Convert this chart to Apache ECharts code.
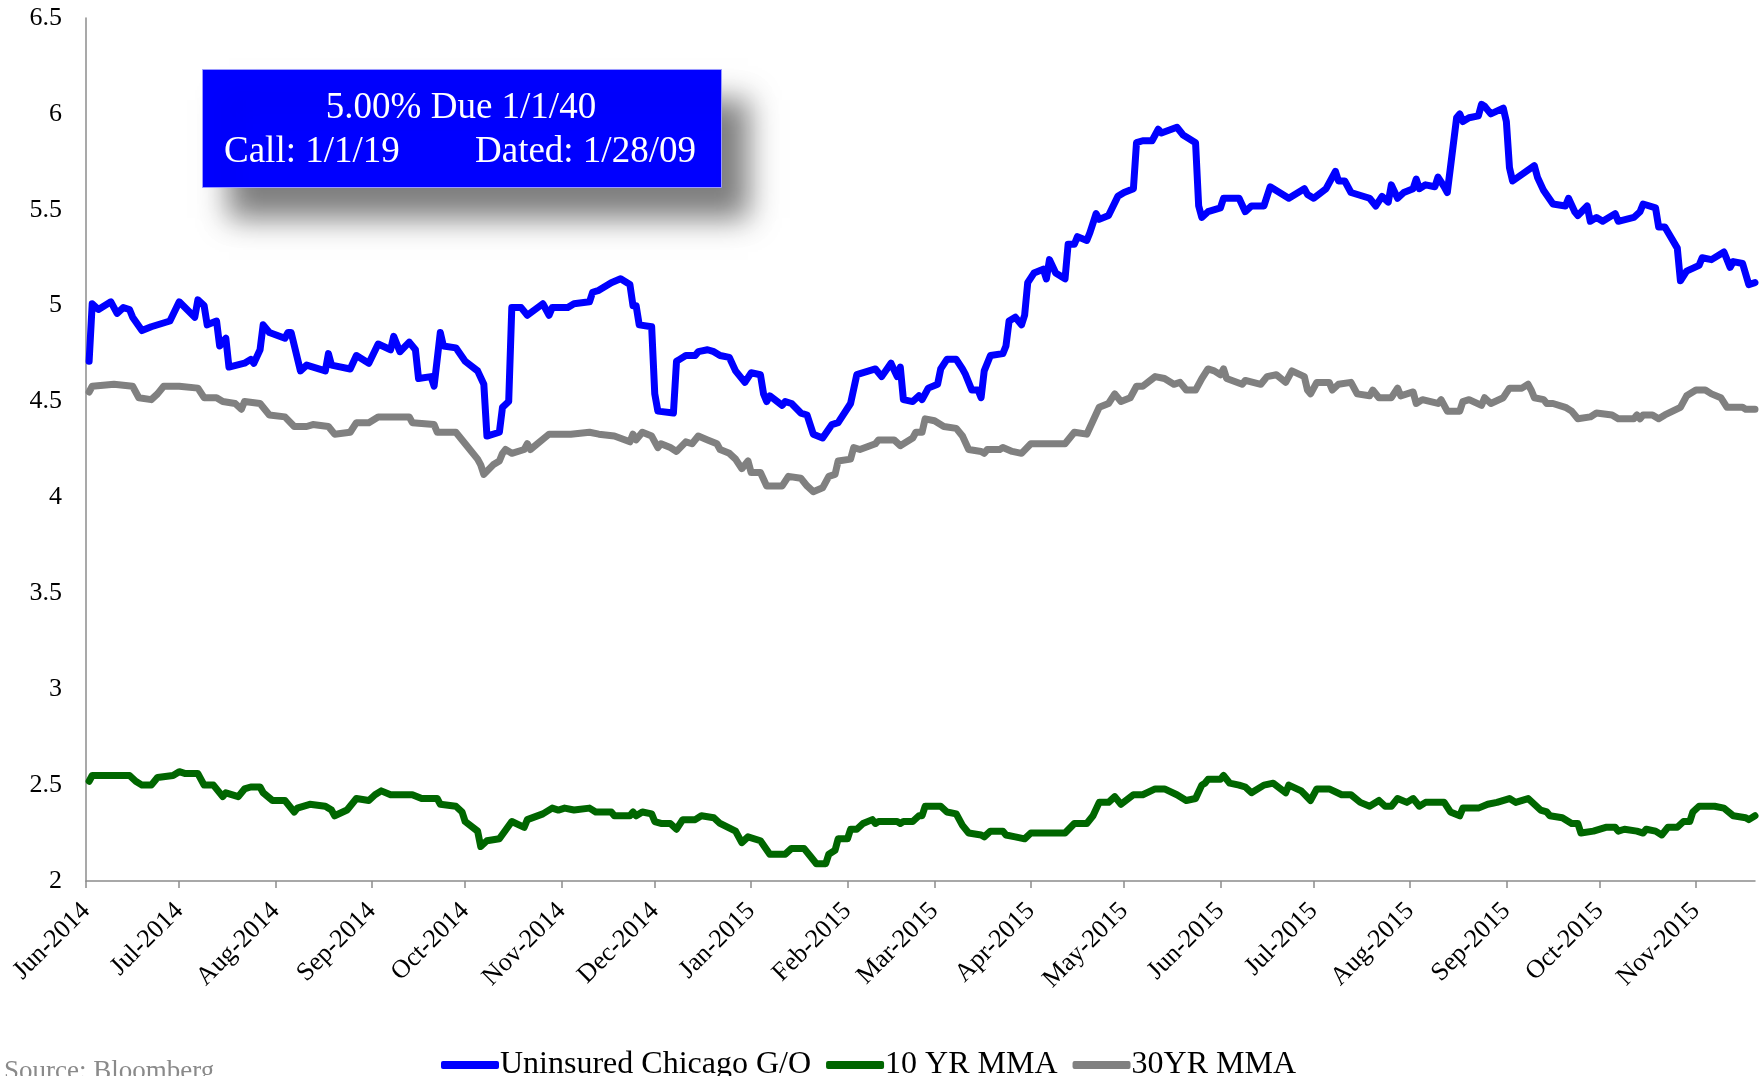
<!DOCTYPE html>
<html>
<head>
<meta charset="utf-8">
<script src="https://cdn.jsdelivr.net/npm/echarts@6/dist/echarts.min.js"></script>
<style>
  html, body { margin: 0; padding: 0; background: #ffffff; }
  #chart { width: 1764px; height: 1076px; }
</style>
</head>
<body>
<div id="chart"></div>
<script>
// Month boundaries used for the x-axis ticks and labels
const monthTicks = [
  '2014-06-01', '2014-07-01', '2014-08-01', '2014-09-01', '2014-10-01', '2014-11-01',
  '2014-12-01', '2015-01-01', '2015-02-01', '2015-03-01', '2015-04-01', '2015-05-01',
  '2015-06-01', '2015-07-01', '2015-08-01', '2015-09-01', '2015-10-01', '2015-11-01'
];

// Yield (%) of the uninsured Chicago G/O bond
const chicagoGO = [
  ['2014-06-02', 4.71], ['2014-06-03', 5.01], ['2014-06-05', 4.98], ['2014-06-09', 5.02],
  ['2014-06-11', 4.96], ['2014-06-13', 4.99], ['2014-06-15', 4.98], ['2014-06-16', 4.94],
  ['2014-06-19', 4.87], ['2014-06-22', 4.89], ['2014-06-28', 4.92], ['2014-07-01', 5.02],
  ['2014-07-06', 4.94], ['2014-07-07', 5.03], ['2014-07-09', 5.00], ['2014-07-10', 4.90],
  ['2014-07-13', 4.92], ['2014-07-14', 4.79], ['2014-07-16', 4.83], ['2014-07-17', 4.68],
  ['2014-07-22', 4.70], ['2014-07-24', 4.72], ['2014-07-25', 4.70], ['2014-07-27', 4.77],
  ['2014-07-28', 4.90], ['2014-07-30', 4.86], ['2014-08-04', 4.83], ['2014-08-05', 4.86],
  ['2014-08-06', 4.86], ['2014-08-09', 4.66], ['2014-08-11', 4.69], ['2014-08-17', 4.66],
  ['2014-08-18', 4.75], ['2014-08-19', 4.69], ['2014-08-25', 4.67], ['2014-08-27', 4.74],
  ['2014-08-31', 4.70], ['2014-09-03', 4.80], ['2014-09-07', 4.77], ['2014-09-08', 4.84],
  ['2014-09-10', 4.76], ['2014-09-13', 4.81], ['2014-09-15', 4.77], ['2014-09-16', 4.62],
  ['2014-09-20', 4.63], ['2014-09-21', 4.58], ['2014-09-23', 4.86], ['2014-09-24', 4.79],
  ['2014-09-28', 4.78], ['2014-10-01', 4.71], ['2014-10-05', 4.66], ['2014-10-07', 4.59],
  ['2014-10-08', 4.32], ['2014-10-12', 4.34], ['2014-10-13', 4.47], ['2014-10-15', 4.50],
  ['2014-10-16', 4.99], ['2014-10-19', 4.99], ['2014-10-21', 4.95], ['2014-10-26', 5.01],
  ['2014-10-28', 4.95], ['2014-10-29', 4.99], ['2014-11-03', 4.99], ['2014-11-05', 5.01],
  ['2014-11-10', 5.02], ['2014-11-11', 5.07], ['2014-11-13', 5.08], ['2014-11-17', 5.12],
  ['2014-11-20', 5.14], ['2014-11-23', 5.11], ['2014-11-24', 5.00], ['2014-11-25', 5.00],
  ['2014-11-26', 4.90], ['2014-11-30', 4.89], ['2014-12-01', 4.54], ['2014-12-02', 4.45],
  ['2014-12-07', 4.44], ['2014-12-08', 4.71], ['2014-12-09', 4.72], ['2014-12-11', 4.74],
  ['2014-12-14', 4.74], ['2014-12-15', 4.76], ['2014-12-18', 4.77], ['2014-12-20', 4.76],
  ['2014-12-22', 4.74], ['2014-12-25', 4.73], ['2014-12-27', 4.66], ['2014-12-30', 4.60],
  ['2015-01-01', 4.65], ['2015-01-04', 4.64], ['2015-01-05', 4.54], ['2015-01-06', 4.50],
  ['2015-01-07', 4.53], ['2015-01-11', 4.48], ['2015-01-12', 4.50], ['2015-01-14', 4.49],
  ['2015-01-17', 4.44], ['2015-01-19', 4.43], ['2015-01-21', 4.33], ['2015-01-24', 4.31],
  ['2015-01-27', 4.38], ['2015-01-29', 4.39], ['2015-02-02', 4.49], ['2015-02-04', 4.64],
  ['2015-02-10', 4.67], ['2015-02-12', 4.63], ['2015-02-15', 4.70], ['2015-02-17', 4.63],
  ['2015-02-18', 4.68], ['2015-02-19', 4.51], ['2015-02-22', 4.50], ['2015-02-24', 4.53],
  ['2015-02-25', 4.51], ['2015-02-27', 4.57], ['2015-03-02', 4.59], ['2015-03-03', 4.67],
  ['2015-03-05', 4.72], ['2015-03-08', 4.72], ['2015-03-10', 4.67], ['2015-03-11', 4.64],
  ['2015-03-13', 4.56], ['2015-03-15', 4.56], ['2015-03-16', 4.52], ['2015-03-17', 4.66],
  ['2015-03-19', 4.74], ['2015-03-23', 4.75], ['2015-03-24', 4.79], ['2015-03-25', 4.92],
  ['2015-03-27', 4.94], ['2015-03-29', 4.90], ['2015-03-30', 4.95], ['2015-03-31', 5.12],
  ['2015-04-02', 5.17], ['2015-04-05', 5.19], ['2015-04-06', 5.14], ['2015-04-07', 5.24],
  ['2015-04-09', 5.17], ['2015-04-12', 5.14], ['2015-04-13', 5.32], ['2015-04-15', 5.32],
  ['2015-04-16', 5.36], ['2015-04-19', 5.34], ['2015-04-20', 5.38], ['2015-04-22', 5.48],
  ['2015-04-23', 5.45], ['2015-04-26', 5.47], ['2015-04-29', 5.57], ['2015-05-01', 5.59],
  ['2015-05-04', 5.61], ['2015-05-05', 5.85], ['2015-05-07', 5.86], ['2015-05-10', 5.86],
  ['2015-05-12', 5.92], ['2015-05-13', 5.90], ['2015-05-18', 5.93], ['2015-05-20', 5.89],
  ['2015-05-24', 5.85], ['2015-05-25', 5.52], ['2015-05-26', 5.46], ['2015-05-28', 5.49],
  ['2015-06-01', 5.51], ['2015-06-02', 5.56], ['2015-06-07', 5.56], ['2015-06-09', 5.49],
  ['2015-06-11', 5.52], ['2015-06-15', 5.52], ['2015-06-17', 5.62], ['2015-06-23', 5.56],
  ['2015-06-28', 5.61], ['2015-06-29', 5.58], ['2015-07-01', 5.56], ['2015-07-05', 5.61],
  ['2015-07-08', 5.70], ['2015-07-09', 5.65], ['2015-07-11', 5.65], ['2015-07-13', 5.59],
  ['2015-07-19', 5.56], ['2015-07-21', 5.52], ['2015-07-23', 5.57], ['2015-07-25', 5.54],
  ['2015-07-26', 5.63], ['2015-07-28', 5.56], ['2015-07-30', 5.59], ['2015-08-02', 5.61],
  ['2015-08-03', 5.66], ['2015-08-04', 5.61], ['2015-08-06', 5.63], ['2015-08-09', 5.62],
  ['2015-08-10', 5.67], ['2015-08-12', 5.62], ['2015-08-13', 5.59], ['2015-08-16', 5.98],
  ['2015-08-17', 6.00], ['2015-08-18', 5.96], ['2015-08-20', 5.98], ['2015-08-23', 5.99],
  ['2015-08-24', 6.05], ['2015-08-25', 6.04], ['2015-08-27', 6.00], ['2015-08-31', 6.03],
  ['2015-09-01', 5.96], ['2015-09-02', 5.72], ['2015-09-03', 5.65], ['2015-09-10', 5.73],
  ['2015-09-11', 5.67], ['2015-09-13', 5.60], ['2015-09-16', 5.53], ['2015-09-20', 5.52],
  ['2015-09-21', 5.56], ['2015-09-23', 5.49], ['2015-09-24', 5.47], ['2015-09-27', 5.52],
  ['2015-09-28', 5.44], ['2015-09-30', 5.46], ['2015-10-02', 5.44], ['2015-10-06', 5.48],
  ['2015-10-07', 5.44], ['2015-10-12', 5.46], ['2015-10-14', 5.49], ['2015-10-15', 5.53],
  ['2015-10-19', 5.51], ['2015-10-20', 5.41], ['2015-10-22', 5.41], ['2015-10-26', 5.30],
  ['2015-10-27', 5.13], ['2015-10-29', 5.18], ['2015-11-02', 5.21], ['2015-11-03', 5.25],
  ['2015-11-06', 5.24], ['2015-11-10', 5.28], ['2015-11-12', 5.20], ['2015-11-13', 5.23],
  ['2015-11-16', 5.22], ['2015-11-18', 5.11], ['2015-11-20', 5.12]
];

// 10-year MMA benchmark yield (%)
const mma10yr = [
  ['2014-06-02', 2.52], ['2014-06-03', 2.55], ['2014-06-15', 2.55], ['2014-06-17', 2.52],
  ['2014-06-19', 2.50], ['2014-06-22', 2.50], ['2014-06-24', 2.54], ['2014-06-29', 2.55],
  ['2014-07-01', 2.57], ['2014-07-03', 2.56], ['2014-07-07', 2.56], ['2014-07-09', 2.50],
  ['2014-07-12', 2.50], ['2014-07-15', 2.44], ['2014-07-16', 2.46], ['2014-07-20', 2.44],
  ['2014-07-22', 2.48], ['2014-07-24', 2.49], ['2014-07-27', 2.49], ['2014-07-28', 2.46],
  ['2014-07-31', 2.42], ['2014-08-04', 2.42], ['2014-08-07', 2.36], ['2014-08-08', 2.38],
  ['2014-08-12', 2.40], ['2014-08-17', 2.39], ['2014-08-19', 2.37], ['2014-08-20', 2.34],
  ['2014-08-24', 2.37], ['2014-08-27', 2.43], ['2014-08-31', 2.42], ['2014-09-02', 2.45],
  ['2014-09-04', 2.47], ['2014-09-07', 2.45], ['2014-09-14', 2.45], ['2014-09-17', 2.43],
  ['2014-09-22', 2.43], ['2014-09-23', 2.40], ['2014-09-28', 2.39], ['2014-09-30', 2.36],
  ['2014-10-01', 2.31], ['2014-10-05', 2.26], ['2014-10-06', 2.18], ['2014-10-08', 2.21],
  ['2014-10-12', 2.22], ['2014-10-16', 2.31], ['2014-10-20', 2.28], ['2014-10-21', 2.32],
  ['2014-10-26', 2.35], ['2014-10-29', 2.38], ['2014-10-31', 2.37], ['2014-11-02', 2.38],
  ['2014-11-05', 2.37], ['2014-11-10', 2.38], ['2014-11-12', 2.36], ['2014-11-17', 2.36],
  ['2014-11-18', 2.34], ['2014-11-23', 2.34], ['2014-11-24', 2.36], ['2014-11-25', 2.34],
  ['2014-11-27', 2.36], ['2014-11-30', 2.35], ['2014-12-01', 2.31], ['2014-12-03', 2.30],
  ['2014-12-06', 2.30], ['2014-12-08', 2.27], ['2014-12-10', 2.32], ['2014-12-14', 2.32],
  ['2014-12-16', 2.34], ['2014-12-20', 2.33], ['2014-12-22', 2.30], ['2014-12-27', 2.26],
  ['2014-12-29', 2.20], ['2014-12-31', 2.23], ['2015-01-04', 2.21], ['2015-01-07', 2.14],
  ['2015-01-12', 2.14], ['2015-01-14', 2.17], ['2015-01-18', 2.17], ['2015-01-20', 2.13],
  ['2015-01-22', 2.09], ['2015-01-25', 2.09], ['2015-01-26', 2.14], ['2015-01-28', 2.16],
  ['2015-01-29', 2.22], ['2015-02-01', 2.22], ['2015-02-02', 2.27], ['2015-02-04', 2.27],
  ['2015-02-06', 2.30], ['2015-02-09', 2.32], ['2015-02-10', 2.30], ['2015-02-11', 2.31],
  ['2015-02-17', 2.31], ['2015-02-18', 2.30], ['2015-02-19', 2.31], ['2015-02-22', 2.31],
  ['2015-02-24', 2.34], ['2015-02-25', 2.34], ['2015-02-26', 2.39], ['2015-03-03', 2.39],
  ['2015-03-05', 2.36], ['2015-03-08', 2.35], ['2015-03-10', 2.29], ['2015-03-12', 2.25],
  ['2015-03-16', 2.24], ['2015-03-17', 2.23], ['2015-03-19', 2.26], ['2015-03-23', 2.26],
  ['2015-03-24', 2.24], ['2015-03-27', 2.23], ['2015-03-30', 2.22], ['2015-04-01', 2.25],
  ['2015-04-12', 2.25], ['2015-04-15', 2.30], ['2015-04-19', 2.30], ['2015-04-21', 2.34],
  ['2015-04-23', 2.41], ['2015-04-26', 2.41], ['2015-04-28', 2.44], ['2015-04-30', 2.40],
  ['2015-05-04', 2.45], ['2015-05-07', 2.45], ['2015-05-11', 2.48], ['2015-05-14', 2.48],
  ['2015-05-18', 2.45], ['2015-05-21', 2.42], ['2015-05-24', 2.43], ['2015-05-26', 2.50],
  ['2015-05-27', 2.51], ['2015-05-28', 2.53], ['2015-06-01', 2.53], ['2015-06-02', 2.55],
  ['2015-06-04', 2.51], ['2015-06-07', 2.50], ['2015-06-09', 2.49], ['2015-06-11', 2.46],
  ['2015-06-15', 2.50], ['2015-06-18', 2.51], ['2015-06-22', 2.46], ['2015-06-23', 2.50],
  ['2015-06-27', 2.47], ['2015-06-30', 2.42], ['2015-07-02', 2.48], ['2015-07-06', 2.48],
  ['2015-07-10', 2.45], ['2015-07-13', 2.45], ['2015-07-16', 2.41], ['2015-07-19', 2.39],
  ['2015-07-22', 2.42], ['2015-07-24', 2.39], ['2015-07-26', 2.39], ['2015-07-28', 2.43],
  ['2015-07-31', 2.41], ['2015-08-02', 2.43], ['2015-08-04', 2.39], ['2015-08-06', 2.41],
  ['2015-08-12', 2.41], ['2015-08-14', 2.36], ['2015-08-17', 2.34], ['2015-08-18', 2.38],
  ['2015-08-23', 2.38], ['2015-08-26', 2.40], ['2015-08-29', 2.41], ['2015-09-02', 2.43],
  ['2015-09-04', 2.41], ['2015-09-08', 2.43], ['2015-09-10', 2.40], ['2015-09-12', 2.37],
  ['2015-09-14', 2.36], ['2015-09-15', 2.34], ['2015-09-19', 2.33], ['2015-09-22', 2.30],
  ['2015-09-24', 2.30], ['2015-09-25', 2.25], ['2015-09-29', 2.26], ['2015-10-03', 2.28],
  ['2015-10-06', 2.28], ['2015-10-07', 2.26], ['2015-10-09', 2.27], ['2015-10-13', 2.26],
  ['2015-10-15', 2.25], ['2015-10-16', 2.27], ['2015-10-19', 2.26], ['2015-10-21', 2.24],
  ['2015-10-23', 2.28], ['2015-10-26', 2.28], ['2015-10-28', 2.31], ['2015-10-30', 2.31],
  ['2015-10-31', 2.36], ['2015-11-02', 2.39], ['2015-11-07', 2.39], ['2015-11-10', 2.38],
  ['2015-11-13', 2.34], ['2015-11-17', 2.33], ['2015-11-18', 2.32], ['2015-11-20', 2.34]
];

// 30-year MMA benchmark yield (%)
const mma30yr = [
  ['2014-06-02', 4.55], ['2014-06-03', 4.58], ['2014-06-10', 4.59], ['2014-06-16', 4.58],
  ['2014-06-18', 4.52], ['2014-06-22', 4.51], ['2014-06-24', 4.54], ['2014-06-26', 4.58],
  ['2014-07-01', 4.58], ['2014-07-07', 4.57], ['2014-07-09', 4.52], ['2014-07-13', 4.52],
  ['2014-07-15', 4.50], ['2014-07-19', 4.49], ['2014-07-21', 4.46], ['2014-07-22', 4.50],
  ['2014-07-27', 4.49], ['2014-07-30', 4.43], ['2014-08-04', 4.42], ['2014-08-07', 4.37],
  ['2014-08-11', 4.37], ['2014-08-13', 4.38], ['2014-08-18', 4.37], ['2014-08-20', 4.33],
  ['2014-08-25', 4.34], ['2014-08-27', 4.39], ['2014-08-31', 4.39], ['2014-09-03', 4.42],
  ['2014-09-13', 4.42], ['2014-09-14', 4.39], ['2014-09-21', 4.38], ['2014-09-22', 4.34],
  ['2014-09-28', 4.34], ['2014-10-01', 4.28], ['2014-10-05', 4.20], ['2014-10-06', 4.17],
  ['2014-10-07', 4.12], ['2014-10-10', 4.17], ['2014-10-12', 4.19], ['2014-10-13', 4.23],
  ['2014-10-14', 4.25], ['2014-10-16', 4.23], ['2014-10-20', 4.25], ['2014-10-21', 4.28],
  ['2014-10-22', 4.25], ['2014-10-28', 4.33], ['2014-11-04', 4.33], ['2014-11-10', 4.34],
  ['2014-11-13', 4.33], ['2014-11-18', 4.32], ['2014-11-23', 4.29], ['2014-11-24', 4.33],
  ['2014-11-25', 4.30], ['2014-11-27', 4.34], ['2014-11-30', 4.32], ['2014-12-02', 4.26],
  ['2014-12-03', 4.28], ['2014-12-06', 4.26], ['2014-12-08', 4.24], ['2014-12-11', 4.29],
  ['2014-12-13', 4.28], ['2014-12-15', 4.32], ['2014-12-18', 4.30], ['2014-12-21', 4.28],
  ['2014-12-22', 4.25], ['2014-12-25', 4.23], ['2014-12-27', 4.20], ['2014-12-29', 4.15],
  ['2014-12-31', 4.19], ['2015-01-01', 4.13], ['2015-01-04', 4.13], ['2015-01-06', 4.06],
  ['2015-01-11', 4.06], ['2015-01-13', 4.11], ['2015-01-17', 4.10], ['2015-01-19', 4.06],
  ['2015-01-21', 4.03], ['2015-01-24', 4.05], ['2015-01-26', 4.11], ['2015-01-28', 4.12],
  ['2015-01-29', 4.19], ['2015-02-02', 4.20], ['2015-02-03', 4.26], ['2015-02-05', 4.25],
  ['2015-02-10', 4.28], ['2015-02-11', 4.30], ['2015-02-16', 4.30], ['2015-02-18', 4.27],
  ['2015-02-22', 4.31], ['2015-02-23', 4.34], ['2015-02-25', 4.34], ['2015-02-26', 4.41],
  ['2015-03-01', 4.40], ['2015-03-04', 4.37], ['2015-03-08', 4.36], ['2015-03-10', 4.32],
  ['2015-03-12', 4.25], ['2015-03-16', 4.24], ['2015-03-17', 4.23], ['2015-03-18', 4.25],
  ['2015-03-22', 4.25], ['2015-03-23', 4.26], ['2015-03-26', 4.24], ['2015-03-29', 4.23],
  ['2015-04-01', 4.28], ['2015-04-12', 4.28], ['2015-04-15', 4.34], ['2015-04-19', 4.33],
  ['2015-04-23', 4.47], ['2015-04-26', 4.49], ['2015-04-28', 4.54], ['2015-04-30', 4.50],
  ['2015-05-03', 4.52], ['2015-05-05', 4.58], ['2015-05-07', 4.58], ['2015-05-11', 4.63],
  ['2015-05-14', 4.62], ['2015-05-17', 4.59], ['2015-05-19', 4.60], ['2015-05-21', 4.56],
  ['2015-05-24', 4.56], ['2015-05-26', 4.62], ['2015-05-28', 4.67], ['2015-05-30', 4.66],
  ['2015-06-01', 4.64], ['2015-06-02', 4.67], ['2015-06-03', 4.62], ['2015-06-08', 4.59],
  ['2015-06-09', 4.61], ['2015-06-14', 4.59], ['2015-06-16', 4.63], ['2015-06-19', 4.64],
  ['2015-06-22', 4.60], ['2015-06-24', 4.66], ['2015-06-28', 4.63], ['2015-06-29', 4.56],
  ['2015-06-30', 4.54], ['2015-07-02', 4.60], ['2015-07-06', 4.60], ['2015-07-07', 4.56],
  ['2015-07-09', 4.59], ['2015-07-13', 4.60], ['2015-07-15', 4.54], ['2015-07-19', 4.53],
  ['2015-07-20', 4.56], ['2015-07-22', 4.52], ['2015-07-26', 4.52], ['2015-07-28', 4.57],
  ['2015-07-29', 4.53], ['2015-08-02', 4.55], ['2015-08-03', 4.49], ['2015-08-05', 4.51],
  ['2015-08-10', 4.49], ['2015-08-11', 4.51], ['2015-08-13', 4.45], ['2015-08-17', 4.45],
  ['2015-08-18', 4.50], ['2015-08-20', 4.51], ['2015-08-24', 4.48], ['2015-08-25', 4.52],
  ['2015-08-27', 4.49], ['2015-08-31', 4.52], ['2015-09-02', 4.57], ['2015-09-06', 4.57],
  ['2015-09-08', 4.59], ['2015-09-09', 4.56], ['2015-09-10', 4.52], ['2015-09-13', 4.51],
  ['2015-09-14', 4.49], ['2015-09-16', 4.49], ['2015-09-20', 4.47], ['2015-09-22', 4.45],
  ['2015-09-24', 4.41], ['2015-09-28', 4.42], ['2015-09-30', 4.44], ['2015-10-05', 4.43],
  ['2015-10-07', 4.41], ['2015-10-12', 4.41], ['2015-10-13', 4.43], ['2015-10-14', 4.41],
  ['2015-10-15', 4.43], ['2015-10-18', 4.43], ['2015-10-20', 4.41], ['2015-10-22', 4.43],
  ['2015-10-27', 4.47], ['2015-10-29', 4.53], ['2015-11-01', 4.56], ['2015-11-04', 4.56],
  ['2015-11-06', 4.54], ['2015-11-09', 4.52], ['2015-11-11', 4.47], ['2015-11-16', 4.47],
  ['2015-11-17', 4.46], ['2015-11-20', 4.46]
];

const axisStart = '2014-06-01';
const axisEnd = '2015-11-20';
const MONTH_NAMES = ['Jan', 'Feb', 'Mar', 'Apr', 'May', 'Jun', 'Jul', 'Aug', 'Sep', 'Oct', 'Nov', 'Dec'];
const SERIF = "'Liberation Serif', 'Times New Roman', 'DejaVu Serif', serif";
const AXIS_GREY = '#8c8c8c';

// Dates are placed on a linear (millisecond) scale so the month ticks can sit
// exactly on calendar month boundaries.
function toTime(s) {
  const [y, m, d] = s.split('-').map(Number);
  return new Date(y, m - 1, d).getTime();
}
const toPoints = rows => rows.map(([d, v]) => [toTime(d), v]);
const tickTimes = monthTicks.map(toTime);

function lineSeries(name, rows, color) {
  return {
    name: name,
    type: 'line',
    data: toPoints(rows),
    showSymbol: false,
    symbol: 'none',
    color: color,
    lineStyle: { color: color, width: 7, cap: 'round', join: 'round' },
    itemStyle: { color: color },
    emphasis: { disabled: true }
  };
}

const chart = echarts.init(document.getElementById('chart'), null, { renderer: 'canvas' });

chart.setOption({
  animation: false,
  backgroundColor: '#ffffff',
  grid: { left: 86, right: 9, top: 18, bottom: 195, containLabel: false },
  xAxis: {
    type: 'value',
    min: toTime(axisStart),
    max: toTime(axisEnd),
    scale: true,
    axisLine: { show: true, lineStyle: { color: AXIS_GREY, width: 1.5 } },
    axisTick: {
      show: true, length: 7, inside: false,
      customValues: tickTimes,
      lineStyle: { color: AXIS_GREY, width: 1.5 }
    },
    axisLabel: {
      customValues: tickTimes,
      rotate: 45,
      margin: 26,
      fontFamily: SERIF,
      fontSize: 26,
      color: '#000000',
      hideOverlap: false,
      showMinLabel: true,
      showMaxLabel: true,
      formatter: function (value) {
        const d = new Date(value);
        return MONTH_NAMES[d.getMonth()] + '-' + d.getFullYear();
      }
    },
    splitLine: { show: false }
  },
  yAxis: {
    type: 'value',
    min: 2,
    max: 6.5,
    interval: 0.5,
    axisLine: { show: true, lineStyle: { color: AXIS_GREY, width: 1.5 } },
    axisTick: { show: false },
    splitLine: { show: false },
    axisLabel: {
      margin: 24,
      fontFamily: SERIF,
      fontSize: 26,
      color: '#000000'
    }
  },
  legend: {
    data: ['Uninsured Chicago G/O', '10 YR MMA', '30YR MMA'],
    left: 436,
    top: 1044,
    icon: 'roundRect',
    itemWidth: 58,
    itemHeight: 8,
    itemGap: 15,
    selectedMode: false,
    textStyle: { fontFamily: SERIF, fontSize: 32, color: '#000000', padding: [0, 0, 0, -4] }
  },
  graphic: [
    {
      type: 'rect',
      left: 202,
      top: 69,
      shape: { width: 519, height: 118 },
      style: {
        fill: '#0000ff',
        stroke: '#9a9aff',
        lineWidth: 1,
        shadowBlur: 28,
        shadowOffsetX: 26,
        shadowOffsetY: 30,
        shadowColor: 'rgba(0, 0, 0, 0.5)'
      },
      z: 10
    },
    {
      type: 'text',
      x: 461,
      y: 108,
      style: {
        text: '5.00% Due 1/1/40',
        fill: '#ffffff',
        font: "37px " + SERIF,
        textAlign: 'center',
        textVerticalAlign: 'middle'
      },
      z: 11
    },
    {
      type: 'text',
      x: 224,
      y: 152,
      style: {
        text: 'Call: 1/1/19',
        fill: '#ffffff',
        font: "37px " + SERIF,
        textAlign: 'left',
        textVerticalAlign: 'middle'
      },
      z: 11
    },
    {
      type: 'text',
      x: 475,
      y: 152,
      style: {
        text: 'Dated: 1/28/09',
        fill: '#ffffff',
        font: "37px " + SERIF,
        textAlign: 'left',
        textVerticalAlign: 'middle'
      },
      z: 11
    },
    {
      type: 'text',
      x: 4,
      y: 1072,
      style: {
        text: 'Source: Bloomberg',
        fill: '#8a8a8a',
        font: "27px " + SERIF,
        textAlign: 'left',
        textVerticalAlign: 'middle'
      },
      z: 11
    }
  ],
  series: [
    lineSeries('Uninsured Chicago G/O', chicagoGO, '#0000ff'),
    lineSeries('10 YR MMA', mma10yr, '#006600'),
    lineSeries('30YR MMA', mma30yr, '#808080')
  ]
});
</script>
</body>
</html>
